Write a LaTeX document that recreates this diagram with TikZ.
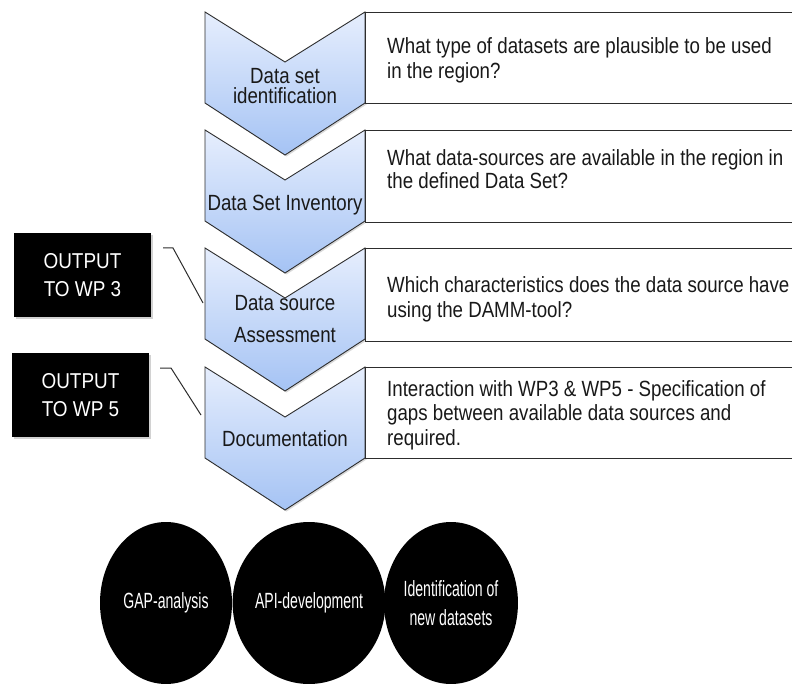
\documentclass[tikz,border=0pt]{standalone}
\usepackage{fontspec}
\newfontfamily\chevfont{Liberation Sans}[FakeStretch=0.85]
\newfontfamily\blkfont{Liberation Sans}[FakeStretch=0.88]
\newfontfamily\ellfont{Liberation Sans}[FakeStretch=0.64]
\usetikzlibrary{shapes.geometric,shadows}
\definecolor{chevtop}{RGB}{230,238,253}
\definecolor{chevbot}{RGB}{165,195,244}
\definecolor{edgegrey}{RGB}{45,45,45}
\tikzset{
  chevshape/.style={draw=edgegrey, line width=0.9pt, top color=chevtop, bottom color=chevbot, line join=miter,
    drop shadow={shadow xshift=1.5pt, shadow yshift=-1.5pt, opacity=0.3}},
  chevlabel/.style={font=\chevfont\fontsize{22}{20}\selectfont, align=center, inner sep=0pt, text=black!90},
  qbox/.style={draw=edgegrey, line width=1.1pt, fill=white, rectangle, inner sep=0pt, anchor=north west, minimum width=428pt},
  qtext/.style={font=\chevfont\fontsize{22}{25}\selectfont, align=left, inner sep=0pt, anchor=north west, text=black!90},
  outbox/.style={fill=black, text=white, rectangle, minimum width=137pt, minimum height=84pt, inner sep=0pt, align=center,
    font=\blkfont\fontsize{21.5}{28}\selectfont, drop shadow={shadow xshift=2pt, shadow yshift=-2pt, opacity=0.35}},
  resell/.style={ellipse, fill=black, text=white, minimum width=132pt, minimum height=162pt, inner sep=0pt, align=center,
    font=\ellfont\fontsize{22}{29}\selectfont},
  link/.style={draw=edgegrey, line width=1pt}
}
\begin{document}
\begin{tikzpicture}[x=1pt,y=-1pt]
\clip (0,0) rectangle (792,684);
\fill[white] (0,0) rectangle (792,684);
% chevrons
\foreach \t in {12,130,248,367}{
  \path[chevshape] (205,\t) -- (285,\t+50) -- (365,\t) -- (365,\t+91) -- (285,\t+143) -- (205,\t+91) -- cycle;
}
% question boxes
\node[qbox, minimum height=91pt] (q1) at (365,12) {};
\node[qbox, minimum height=92pt] (q2) at (365,130) {};
\node[qbox, minimum height=93pt] (q3) at (365,248) {};
\node[qbox, minimum height=91pt] (q4) at (365,367) {};
\node[qtext] (q1t) at (387,37) {What type of datasets are plausible to be used\\in the region?};
\node[qtext, font=\chevfont\fontsize{22}{23.5}\selectfont] (q2t) at (387,149) {What data-sources are available in the region in\\the defined Data Set?};
\node[qtext] (q3t) at (387,276) {Which characteristics does the data source have\\using the DAMM-tool?};
\node[qtext, font=\chevfont\fontsize{22}{24.5}\selectfont] (q4t) at (387,380) {Interaction with WP3 \& WP5 - Specification of\\gaps between available data sources and\\required.};
% chevron labels
\node[chevlabel, anchor=north] (c1) at (285,68) {Data set\\identification};
\node[chevlabel, anchor=base] (c2) at (285,211) {Data Set Inventory};
\node[chevlabel, anchor=north, font=\chevfont\fontsize{22}{32}\selectfont] (c3) at (285,295) {Data source\\Assessment};
\node[chevlabel, anchor=base] (c4) at (285,446) {Documentation};
% output boxes
\node[outbox] (o3) at (82.5,275) {OUTPUT\\TO WP 3};
\node[outbox] (o5) at (80.5,395) {OUTPUT\\TO WP 5};
\coordinate (l3a) at (163,248);
\coordinate (l3b) at (203,303);
\coordinate (l5a) at (160,368);
\coordinate (l5b) at (201,415);
\draw[link] (l3a) -- ++(10,0) -- (l3b);
\draw[link] (l5a) -- ++(11,0) -- (l5b);
% result ellipses
\node[resell] (e1) at (166,603) {GAP-analysis};
\node[resell] (e2) at (309,603) {API-development};
\node[resell] (e3) at (451,603) {Identification of\\new datasets};
\end{tikzpicture}
\end{document}
